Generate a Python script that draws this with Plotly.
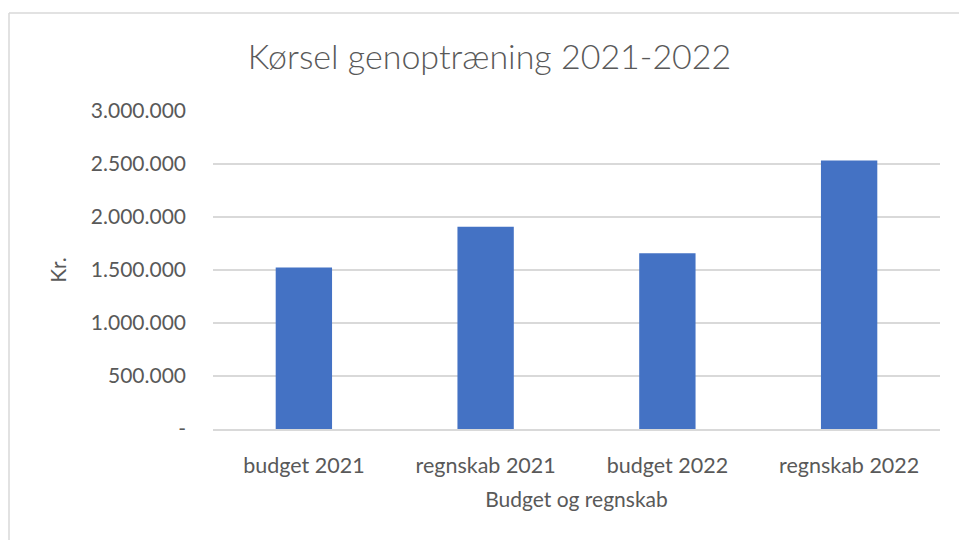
import plotly.graph_objects as go

categories = ["budget 2021", "regnskab 2021", "budget 2022", "regnskab 2022"]
values = [1524000, 1908000, 1659000, 2534000]
tick_vals = [0, 500000, 1000000, 1500000, 2000000, 2500000, 3000000]
tick_text = ["-", "500.000", "1.000.000", "1.500.000", "2.000.000", "2.500.000", "3.000.000"]

FONT = "Lato"
TXT = "#595959"
GRID = "#d9d9d9"

W, H = 959, 540
L, R, T, B = 213, 19, 111, 111

fig = go.Figure(go.Bar(
    x=categories, y=values,
    marker=dict(color="#4472C4", line=dict(width=0)),
    hoverinfo="x+y",
))

def px_x(px):
    return (px - L) / (W - L - R)

def px_y(py):
    return (H - B - py) / (H - T - B)

fig.update_layout(
    width=W, height=H,
    margin=dict(l=L, r=R, t=T, b=B),
    paper_bgcolor="white", plot_bgcolor="white",
    bargap=0.69,
    showlegend=False,
    font=dict(family=FONT, color=TXT),
    title=dict(text="Kørsel genoptræning 2021-2022",
               font=dict(size=34, color=TXT, family=FONT, weight=300),
               x=489.5 / W, xanchor="center", xref="container",
               y=1 - 57 / H, yanchor="middle", yref="container"),
    xaxis=dict(
        title=dict(text="Budget og regnskab", font=dict(size=21, color=TXT), standoff=16),
        tickfont=dict(size=21.5, color=TXT),
        showgrid=False, showline=True, linecolor=GRID, linewidth=2,
        ticks="", ticklabelstandoff=16,
    ),
    yaxis=dict(
        title=dict(text="Kr.", font=dict(size=21, color=TXT), standoff=18),
        range=[0, 3000000],
        tickvals=tick_vals, ticktext=tick_text,
        tickfont=dict(size=21, color=TXT),
        showgrid=True, gridcolor=GRID, gridwidth=1.5,
        zeroline=False, showline=False,
        ticks="", ticklabelstandoff=26,
    ),
    shapes=[
        dict(type="line", xref="paper", yref="paper",
             x0=px_x(9), x1=px_x(959), y0=px_y(13), y1=px_y(13),
             line=dict(color=GRID, width=1.5)),
        dict(type="line", xref="paper", yref="paper",
             x0=px_x(9), x1=px_x(9), y0=px_y(13), y1=px_y(540),
             line=dict(color=GRID, width=1.5)),
    ],
)

fig.write_html("out.html", config={"displayModeBar": False},
               post_script="document.body.style.margin='0';")
